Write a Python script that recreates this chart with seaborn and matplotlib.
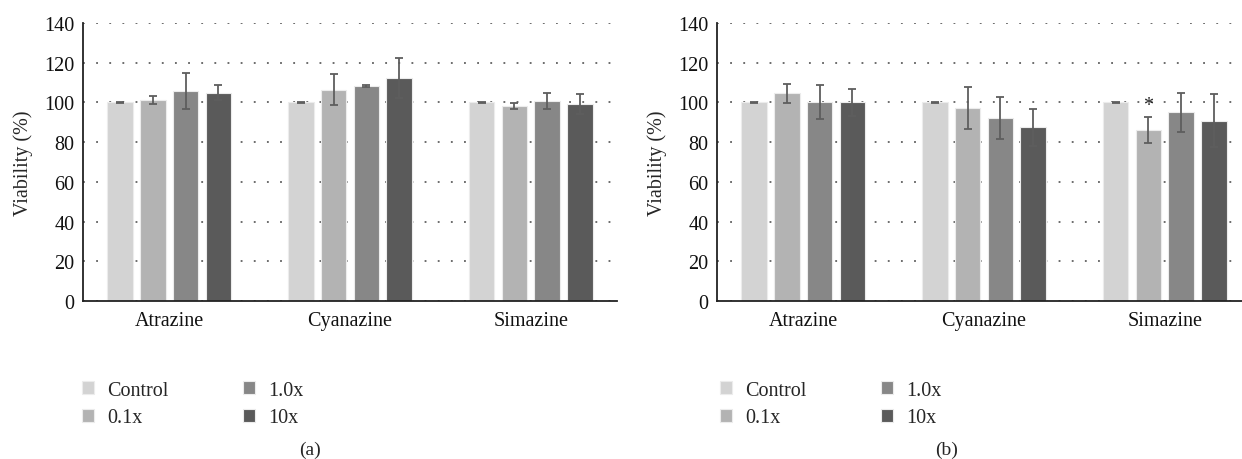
import matplotlib
matplotlib.use("Agg")
import matplotlib.pyplot as plt
import seaborn as sns
import pandas as pd

herbicides = ["Atrazine", "Cyanazine", "Simazine"]
doses = ["Control", "0.1x", "1.0x", "10x"]
colors = ["#d3d3d3", "#b3b3b3", "#878787", "#5a5a5a"]

# panel (a) means / errors, per dose, in herbicide order
a_means = {"Control": [100, 100, 100], "0.1x": [101.3, 106.5, 98.2],
           "1.0x": [105.8, 108.3, 100.8], "10x": [105.0, 112.3, 99.2]}
a_errs = {"Control": [0.3, 0.3, 0.3], "0.1x": [2.0, 7.7, 1.5],
          "1.0x": [9.0, 0.5, 4.0], "10x": [3.7, 10.3, 4.8]}
# panel (b)
b_means = {"Control": [100, 100, 100], "0.1x": [104.5, 97.3, 86.0],
           "1.0x": [100.2, 92.2, 95.0], "10x": [100.0, 87.5, 90.8]}
b_errs = {"Control": [0.3, 0.3, 0.3], "0.1x": [4.7, 10.5, 6.5],
          "1.0x": [8.6, 10.7, 10.0], "10x": [7.0, 9.3, 13.3]}

sns.set_theme(style="white")
plt.rcParams["font.family"] = ["Liberation Serif", "DejaVu Serif"]
FS = 14.5

fig = plt.figure(figsize=(12.42, 4.6), dpi=100)
ax_a = fig.add_axes([83 / 1242, 0.3435, 534 / 1242, 0.6043])
ax_b = fig.add_axes([717 / 1242, 0.3435, 534 / 1242, 0.6043])


def draw(ax, means, errs):
    rows = []
    for d in doses:
        for h, m in zip(herbicides, means[d]):
            rows.append({"Herbicide": h, "Dose": d, "Viability": m})
    df = pd.DataFrame(rows)
    sns.barplot(data=df, x="Herbicide", y="Viability", hue="Dose",
                hue_order=doses, order=herbicides, palette=colors,
                width=0.726, gap=0.22, errorbar=None, ax=ax,
                edgecolor="#ececec", linewidth=0.8, saturation=1)
    for cont, d in zip(ax.containers, doses):
        xs = [p.get_x() + p.get_width() / 2 for p in cont]
        hs = [p.get_height() for p in cont]
        ax.errorbar(xs, hs, yerr=errs[d], fmt="none", ecolor="#5e5e5e",
                    elinewidth=1.3, capsize=2.6, capthick=1.3, zorder=5)
    ax.set_ylim(0, 140)
    ax.set_yticks(range(0, 141, 20))
    ax.set_xlabel("")
    ax.set_ylabel("Viability (%)", fontsize=FS, labelpad=8)
    ax.tick_params(axis="both", length=0, labelsize=FS, colors="#111111")
    ax.tick_params(axis="y", pad=6)
    ax.tick_params(axis="x", pad=7)
    ax.set_axisbelow(True)
    ax.yaxis.grid(True, linestyle=(0, (1.2, 7.4)), linewidth=1.1, color="#444444")
    ax.xaxis.grid(False)
    for s in ["top", "right"]:
        ax.spines[s].set_visible(False)
    for s in ["left", "bottom"]:
        ax.spines[s].set_color("#222222")
        ax.spines[s].set_linewidth(1.3)
    handles, labels = ax.get_legend_handles_labels()
    ax.get_legend().remove()
    return handles, labels


ha, la = draw(ax_a, a_means, a_errs)
hb, lb = draw(ax_b, b_means, b_errs)

# significance mark on panel (b), Simazine 0.1x
bar = ax_b.containers[1][2]
ax_b.text(bar.get_x() + bar.get_width() / 2, b_means["0.1x"][2] + b_errs["0.1x"][2] + 1.2,
          "*", ha="center", va="bottom", fontsize=FS, color="#222222")

for handles, labels, x0 in [(ha, la, 82 / 1242), (hb, lb, 720 / 1242)]:
    fig.legend(handles, labels, ncol=2, loc="upper left",
               bbox_to_anchor=(x0, 0.1696), bbox_transform=fig.transFigure,
               frameon=False, fontsize=FS, handlelength=0.6, handleheight=0.6,
               handletextpad=0.65, columnspacing=3.7, labelspacing=0.41,
               borderpad=0, borderaxespad=0)

fig.text(310 / 1242, 1 - 450 / 460, "(a)", ha="center", va="center", fontsize=FS - 0.5)
fig.text(947 / 1242, 1 - 450 / 460, "(b)", ha="center", va="center", fontsize=FS - 0.5)

fig.savefig("out.png", dpi=100)
